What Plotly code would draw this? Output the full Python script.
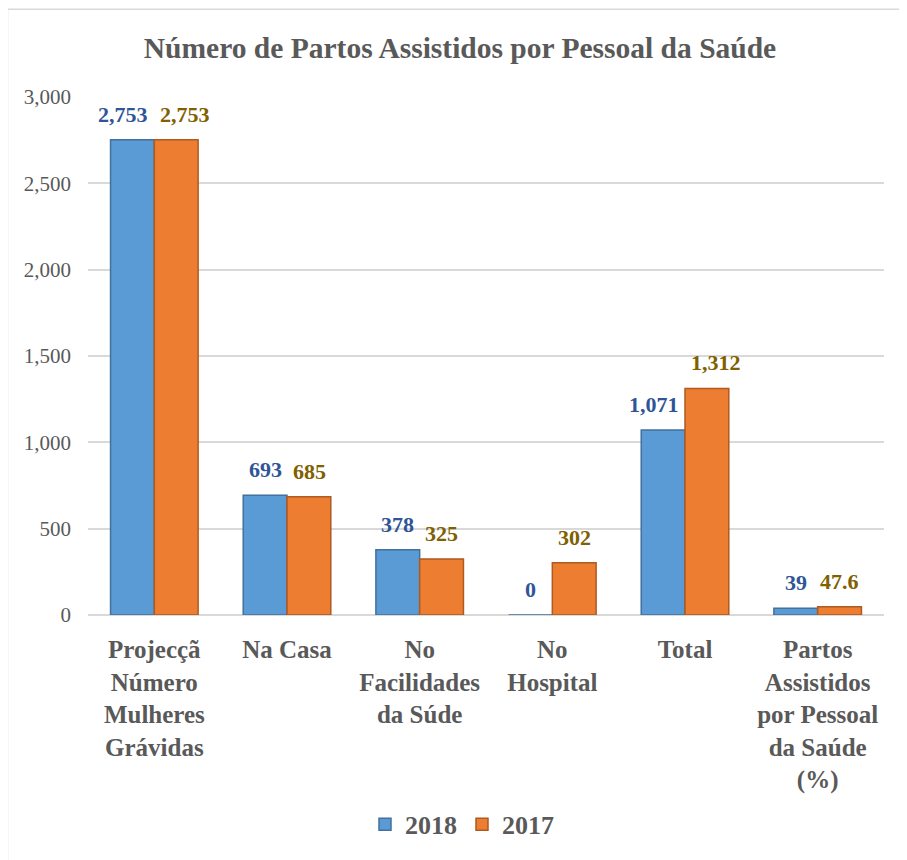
import plotly.graph_objects as go

categories = [
    "Projecçã<br>Número<br>Mulheres<br>Grávidas",
    "Na Casa",
    "No<br>Facilidades<br>da Súde",
    "No<br>Hospital",
    "Total",
    "Partos<br>Assistidos<br>por Pessoal<br>da Saúde<br>(%)",
]
series_names = ["2018", "2017"]
values_2018 = [2753, 693, 378, 0, 1071, 39]
values_2017 = [2753, 685, 325, 302, 1312, 47.6]
y_ticks = [0, 500, 1000, 1500, 2000, 2500, 3000]

FONT = "Liberation Serif, Times New Roman, serif"
GREY = "#595959"

# figure is drawn inside the page's 8px body margin
W, H = 899, 852
ML, MR, MT, MB = 80, 23, 89, 241
PW, PH = W - ML - MR, H - MT - MB

fig = go.Figure()
fig.add_trace(go.Bar(
    name=f"<b>{series_names[0]}</b>", x=categories, y=values_2018,
    marker=dict(color="#5B9BD5", line=dict(color="#41719C", width=1.5)),
))
fig.add_trace(go.Bar(
    name=f"<b>{series_names[1]}</b>", x=categories, y=values_2017,
    marker=dict(color="#ED7D31", line=dict(color="#AE5A21", width=1.5)),
))

# value labels above bars
label_colors = ["#2F5597", "#806000"]
all_vals = [values_2018, values_2017]
for k, vals in enumerate(all_vals):
    for i, (c, v) in enumerate(zip(categories, vals)):
        txt = f"{v:,}" if isinstance(v, int) else f"{v}"
        # push wide neighbouring labels apart so they do not collide
        wide = all(abs(s[i]) >= 1000 for s in all_vals)
        shift = 22 + (9 if wide else 0)
        fig.add_annotation(
            x=c, y=v, xref="x", yref="y", text=f"<b>{txt}</b>",
            showarrow=False, yanchor="bottom", yshift=11,
            xshift=-shift if k == 0 else shift,
            font=dict(family=FONT, size=22, color=label_colors[k]),
        )

fig.update_layout(
    width=W, height=H,
    margin=dict(l=ML, r=MR, t=MT, b=MB),
    paper_bgcolor="white", plot_bgcolor="white",
    barmode="group", bargap=0.34, bargroupgap=0,
    title=dict(text="<b>Número de Partos Assistidos por Pessoal da Saúde</b>",
               x=(460 - 8) / W, xanchor="center", y=1 - 40 / H, yanchor="middle",
               font=dict(family=FONT, size=29.5, color=GREY)),
    font=dict(family=FONT, color=GREY),
    legend=dict(orientation="h", x=(462 - 8 - ML) / PW, xanchor="center",
                y=-(822 - (H - MB)) / PH, yanchor="middle",
                font=dict(family=FONT, size=26, color=GREY),
                traceorder="normal"),
    showlegend=True,
)
fig.update_yaxes(
    range=[0, 3000], tickvals=y_ticks, tickformat=",",
    showgrid=True, gridcolor="#D9D9D9", gridwidth=1.5,
    zeroline=True, zerolinecolor="#D9D9D9", zerolinewidth=1.5,
    showline=False, ticks="", ticklabelstandoff=16,
    tickfont=dict(family=FONT, size=21, color=GREY),
)
fig.update_xaxes(
    showline=False, ticks="", showgrid=False,
    tickvals=categories, ticktext=[f"<b>{c}</b>" for c in categories],
    tickfont=dict(family=FONT, size=25, color=GREY),
    tickangle=0, ticklabelstandoff=17,
)
# chart frame
fig.add_shape(type="rect", xref="paper", yref="paper",
              x0=(-0.5 - ML) / PW, x1=1.1, y0=-0.6, y1=1 + (MT - 0.5) / PH,
              line=dict(color="#D9D9D9", width=1.5), fillcolor="rgba(0,0,0,0)", layer="below")

fig.write_html("out.html")
